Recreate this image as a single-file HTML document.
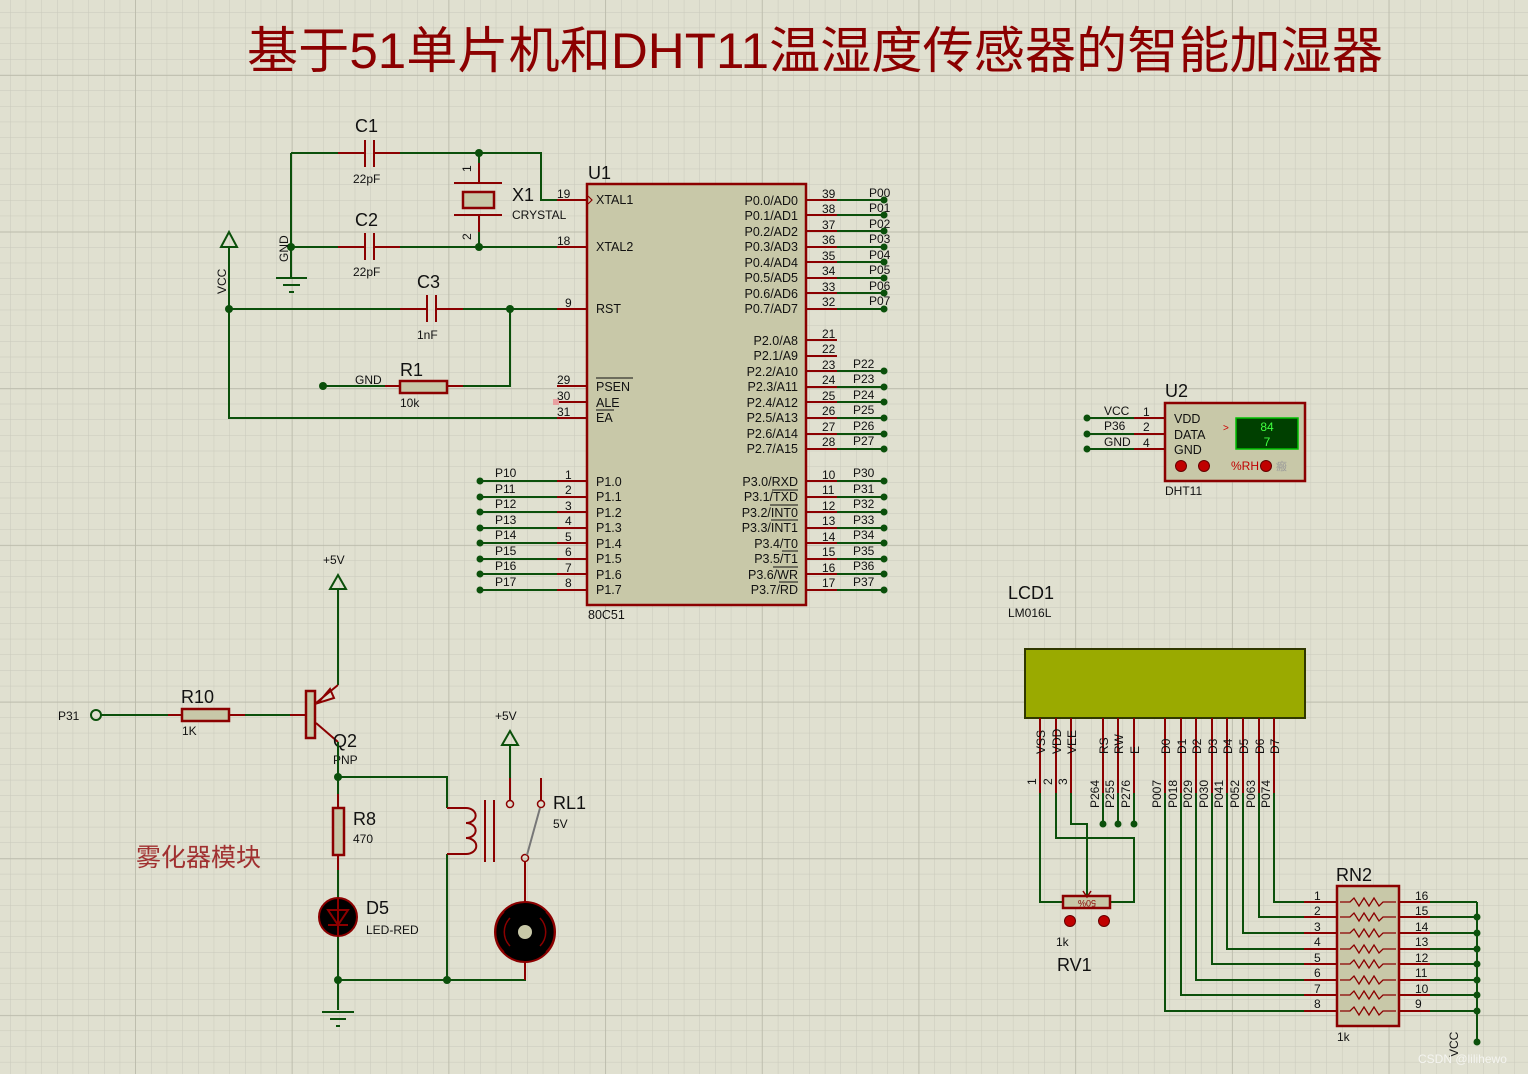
<!DOCTYPE html>
<html><head><meta charset="utf-8"><style>
html,body{margin:0;padding:0;background:#e0e0d0;}
svg{display:block;font-family:"Liberation Sans","Noto Sans CJK SC",sans-serif;}
.w{stroke:#0b500b;stroke-width:2;fill:none}
.r{stroke:#8b0000;stroke-width:2;fill:none}
.b{fill:#c8c8a8;stroke:#8b0000;stroke-width:2.5}
.t{font-size:12.5px;fill:#111}
.n{font-size:12px;fill:#111}
.L{font-size:18px;fill:#111}
.d{fill:#0b500b}
</style></head><body>
<svg width="1528" height="1074" viewBox="0 0 1528 1074" xmlns="http://www.w3.org/2000/svg">
<defs>
<pattern id="mi" x="10" y="12" width="15.67" height="15.67" patternUnits="userSpaceOnUse">
<path d="M0 0H15.67M0 0V15.67" stroke="#c9c9bb" stroke-width="1" fill="none"/></pattern>
<pattern id="ma" x="135" y="75" width="156.7" height="156.7" patternUnits="userSpaceOnUse">
<path d="M0 0H156.7M0 0V156.7" stroke="#b8b8a8" stroke-width="1.5" fill="none"/></pattern>
</defs>
<rect width="1528" height="1074" fill="#e0e0d0"/>
<rect width="1528" height="1074" fill="url(#mi)"/>
<rect width="1528" height="1074" fill="url(#ma)"/>

<text x="815" y="68" text-anchor="middle" font-size="50" fill="#8b0000" textLength="1136" lengthAdjust="spacingAndGlyphs">基于51单片机和DHT11温湿度传感器的智能加湿器</text>

<!-- U1 -->
<rect class="b" x="587" y="184" width="219" height="421"/>
<text class="L" x="588" y="179">U1</text>
<text class="t" x="588" y="619">80C51</text>

<!-- crystal area -->
<path class="w" d="M291 153H338M400 153H541V200H557M479 153V163"/>
<path class="r" d="M338 153H365M374 153H400M557 200H587"/>
<path class="r" d="M365 140V167M374 140V167"/>
<path class="r" d="M479 163V183M454 183H502M454 215H502M479 215V232"/>
<rect class="b" x="463" y="192" width="31" height="16"/>
<path class="w" d="M479 232V247"/>
<path class="w" d="M291 247H338M400 247H557M291 153V277"/>
<path class="r" d="M338 247H365M374 247H400M557 247H587M365 233V260M374 233V260"/>
<circle class="d" cx="479" cy="153" r="4"/><circle class="d" cx="479" cy="247" r="4"/><circle class="d" cx="291" cy="247" r="4"/>
<path class="w" d="M276 278H307M283 285H300M289 292H294"/>
<text class="n" transform="translate(288,262) rotate(-90)">GND</text>
<!-- VCC -->
<path class="w" d="M229 247V418H557M221 247L229 232L237 247Z"/>
<text class="n" transform="translate(226,294) rotate(-90)">VCC</text>
<path class="w" d="M229 309H400M436 309H557M510 309V386H463M385 386H323"/>
<path class="r" d="M400 309H427M436 309H463M427 295V322M436 295V322M557 309H587M385 386H400M447 386H463M557 386H587M557 402H587M557 418H587"/>
<rect class="b" x="400" y="381" width="47" height="12"/>
<circle class="d" cx="229" cy="309" r="4"/><circle class="d" cx="510" cy="309" r="4"/><circle class="d" cx="323" cy="386" r="4"/>
<rect x="553" y="399" width="6" height="6" fill="#e8a0a0"/>
<text class="L" x="355" y="132">C1</text><text class="n" x="353" y="183">22pF</text>
<text class="L" x="355" y="226">C2</text><text class="n" x="353" y="276">22pF</text>
<text class="L" x="417" y="288">C3</text><text class="n" x="417" y="339">1nF</text>
<text class="L" x="400" y="376">R1</text><text class="n" x="400" y="407">10k</text>
<text class="n" x="355" y="384">GND</text>
<text class="L" x="512" y="201">X1</text><text class="n" x="512" y="219">CRYSTAL</text>
<text class="n" x="471" y="172" transform="rotate(-90 471 172)">1</text>
<text class="n" x="471" y="240" transform="rotate(-90 471 240)">2</text>

<g class="n">
<text x="557" y="198">19</text><text x="557" y="245">18</text><text x="565" y="307">9</text>
<text x="557" y="384">29</text><text x="557" y="400">30</text><text x="557" y="416">31</text>
</g>
<g class="t">
<text x="596" y="204">XTAL1</text><text x="596" y="251">XTAL2</text><text x="596" y="313">RST</text>
<text x="596" y="391">PSEN</text><text x="596" y="407">ALE</text><text x="596" y="422">EA</text>
</g>
<path d="M596 378H633M596 410H614" stroke="#111" stroke-width="1"/>
<path d="M588 196L592 200L588 204" stroke="#8b0000" fill="none" stroke-width="1.2"/>

<g id="p1">
<path class="w" d="M480 481H557M480 497H557M480 512H557M480 528H557M480 543H557M480 559H557M480 574H557M480 590H557"/>
<path class="r" d="M557 481H587M557 497H587M557 512H587M557 528H587M557 543H587M557 559H587M557 574H587M557 590H587"/>
<g class="d"><circle cx="480" cy="481" r="3.5"/><circle cx="480" cy="497" r="3.5"/><circle cx="480" cy="512" r="3.5"/><circle cx="480" cy="528" r="3.5"/><circle cx="480" cy="543" r="3.5"/><circle cx="480" cy="559" r="3.5"/><circle cx="480" cy="574" r="3.5"/><circle cx="480" cy="590" r="3.5"/></g>
<g class="n"><text x="565" y="479">1</text><text x="565" y="494">2</text><text x="565" y="510">3</text><text x="565" y="525">4</text><text x="565" y="541">5</text><text x="565" y="556">6</text><text x="565" y="572">7</text><text x="565" y="587">8</text>
<text x="495" y="477">P10</text><text x="495" y="493">P11</text><text x="495" y="508">P12</text><text x="495" y="524">P13</text><text x="495" y="539">P14</text><text x="495" y="555">P15</text><text x="495" y="570">P16</text><text x="495" y="586">P17</text></g>
<g class="t"><text x="596" y="486">P1.0</text><text x="596" y="501">P1.1</text><text x="596" y="517">P1.2</text><text x="596" y="532">P1.3</text><text x="596" y="548">P1.4</text><text x="596" y="563">P1.5</text><text x="596" y="579">P1.6</text><text x="596" y="594">P1.7</text></g>
</g>

<path class="r" d="M806 200H837M806 215H837M806 231H837M806 247H837M806 262H837M806 278H837M806 293H837M806 309H837M806 340H837M806 356H837M806 371H837M806 387H837M806 402H837M806 418H837M806 434H837M806 449H837M806 481H837M806 497H837M806 512H837M806 528H837M806 543H837M806 559H837M806 574H837M806 590H837"/>
<path class="w" d="M837 200H884M837 215H884M837 231H884M837 247H884M837 262H884M837 278H884M837 293H884M837 309H884M837 371H884M837 387H884M837 402H884M837 418H884M837 434H884M837 449H884M837 481H884M837 497H884M837 512H884M837 528H884M837 543H884M837 559H884M837 574H884M837 590H884"/>
<g class="d"><circle cx="884" cy="200" r="3.5"/><circle cx="884" cy="215" r="3.5"/><circle cx="884" cy="231" r="3.5"/><circle cx="884" cy="247" r="3.5"/><circle cx="884" cy="262" r="3.5"/><circle cx="884" cy="278" r="3.5"/><circle cx="884" cy="293" r="3.5"/><circle cx="884" cy="309" r="3.5"/>
<circle cx="884" cy="371" r="3.5"/><circle cx="884" cy="387" r="3.5"/><circle cx="884" cy="402" r="3.5"/><circle cx="884" cy="418" r="3.5"/><circle cx="884" cy="434" r="3.5"/><circle cx="884" cy="449" r="3.5"/>
<circle cx="884" cy="481" r="3.5"/><circle cx="884" cy="497" r="3.5"/><circle cx="884" cy="512" r="3.5"/><circle cx="884" cy="528" r="3.5"/><circle cx="884" cy="543" r="3.5"/><circle cx="884" cy="559" r="3.5"/><circle cx="884" cy="574" r="3.5"/><circle cx="884" cy="590" r="3.5"/></g>
<g class="n">
<text x="822" y="198">39</text><text x="822" y="213">38</text><text x="822" y="229">37</text><text x="822" y="244">36</text><text x="822" y="260">35</text><text x="822" y="275">34</text><text x="822" y="291">33</text><text x="822" y="306">32</text>
<text x="822" y="338">21</text><text x="822" y="353">22</text><text x="822" y="369">23</text><text x="822" y="384">24</text><text x="822" y="400">25</text><text x="822" y="415">26</text><text x="822" y="431">27</text><text x="822" y="446">28</text>
<text x="822" y="479">10</text><text x="822" y="494">11</text><text x="822" y="510">12</text><text x="822" y="525">13</text><text x="822" y="541">14</text><text x="822" y="556">15</text><text x="822" y="572">16</text><text x="822" y="587">17</text>
<text x="869" y="197">P00</text><text x="869" y="212">P01</text><text x="869" y="228">P02</text><text x="869" y="243">P03</text><text x="869" y="259">P04</text><text x="869" y="274">P05</text><text x="869" y="290">P06</text><text x="869" y="305">P07</text>
<text x="853" y="368">P22</text><text x="853" y="383">P23</text><text x="853" y="399">P24</text><text x="853" y="414">P25</text><text x="853" y="430">P26</text><text x="853" y="445">P27</text>
<text x="853" y="477">P30</text><text x="853" y="493">P31</text><text x="853" y="508">P32</text><text x="853" y="524">P33</text><text x="853" y="539">P34</text><text x="853" y="555">P35</text><text x="853" y="570">P36</text><text x="853" y="586">P37</text>
</g>
<g class="t" text-anchor="end">
<text x="798" y="205">P0.0/AD0</text><text x="798" y="220">P0.1/AD1</text><text x="798" y="236">P0.2/AD2</text><text x="798" y="251">P0.3/AD3</text><text x="798" y="267">P0.4/AD4</text><text x="798" y="282">P0.5/AD5</text><text x="798" y="298">P0.6/AD6</text><text x="798" y="313">P0.7/AD7</text>
<text x="798" y="345">P2.0/A8</text><text x="798" y="360">P2.1/A9</text><text x="798" y="376">P2.2/A10</text><text x="798" y="391">P2.3/A11</text><text x="798" y="407">P2.4/A12</text><text x="798" y="422">P2.5/A13</text><text x="798" y="438">P2.6/A14</text><text x="798" y="453">P2.7/A15</text>
<text x="798" y="486">P3.0/RXD</text><text x="798" y="501">P3.1/TXD</text><text x="798" y="517">P3.2/INT0</text><text x="798" y="532">P3.3/INT1</text><text x="798" y="548">P3.4/T0</text><text x="798" y="563">P3.5/T1</text><text x="798" y="579">P3.6/WR</text><text x="798" y="594">P3.7/RD</text>
</g>
<path d="M772 490H798M770 505H798M771 520H798M782 551H798M773 567H798M779 582H798" stroke="#111" stroke-width="1" transform="translate(0,0)"/>

<text class="n" x="323" y="564">+5V</text>
<path class="w" d="M338 589V685M330 589L338 575L346 589Z"/>
<path class="r" d="M338 685L316 703M316 723L338 742"/>
<path d="M318 703L330 689L334 698Z" fill="none" stroke="#8b0000" stroke-width="2"/>
<rect class="b" x="306" y="691" width="9" height="47"/>
<text class="n" x="58" y="720">P31</text>
<circle cx="96" cy="715" r="5" fill="none" stroke="#0b500b" stroke-width="2"/>
<path class="w" d="M101 715H168M245 715H290"/>
<path class="r" d="M168 715H182M229 715H245M290 715H306"/>
<rect class="b" x="182" y="709" width="47" height="12"/>
<text class="L" x="181" y="703">R10</text><text class="n" x="182" y="735">1K</text>
<text class="L" x="333" y="747">Q2</text><text class="n" x="333" y="764">PNP</text>
<path class="w" d="M338 742V794M338 777H447V808M447 854V980M338 870V900M338 935V1010M338 980H525V962"/>
<path class="r" d="M338 794V808M338 855V870M447 808H466M447 854H466"/>
<path class="r" d="M466 808a9 7 0 0 1 0 15a9 7 0 0 1 0 15a9 7 0 0 1 0 16" fill="none"/>
<path class="r" d="M485 800V862M494 800V862"/>
<rect class="b" x="333" y="808" width="11" height="47"/>
<text class="L" x="353" y="825">R8</text><text class="n" x="353" y="843">470</text>
<circle cx="338" cy="917" r="19" fill="#000" stroke="#8b0000" stroke-width="2"/>
<path d="M328 910H348L338 925ZM328 925H348" fill="none" stroke="#8b0000" stroke-width="2"/>
<path class="r" d="M338 898V935"/>
<text class="L" x="366" y="914">D5</text><text class="n" x="366" y="934">LED-RED</text>
<path class="w" d="M322 1012H354M330 1019H346M336 1026H340"/>
<circle class="d" cx="338" cy="777" r="4"/><circle class="d" cx="338" cy="980" r="4"/><circle class="d" cx="447" cy="980" r="4"/>
<text class="n" x="495" y="720">+5V</text>
<path class="w" d="M510 745V778M502 745L510 731L518 745Z"/>
<path class="r" d="M510 778V800M541 778V800M525 862V902"/>
<circle cx="510" cy="804" r="3.5" fill="none" stroke="#8b0000" stroke-width="1.5"/>
<circle cx="541" cy="804" r="3.5" fill="none" stroke="#8b0000" stroke-width="1.5"/>
<circle cx="525" cy="858" r="3.5" fill="none" stroke="#8b0000" stroke-width="1.5"/>
<path d="M540 808L527 855" stroke="#777" stroke-width="2"/>
<text class="L" x="553" y="809">RL1</text><text class="n" x="553" y="828">5V</text>
<circle cx="525" cy="932" r="30" fill="#000" stroke="#8b0000" stroke-width="2"/>
<circle cx="525" cy="932" r="7" fill="#c8c8a8"/>
<path d="M510 918a20 20 0 0 0 0 28M540 918a20 20 0 0 1 0 28M504 912a28 28 0 0 0 0 40M546 912a28 28 0 0 1 0 40" stroke="#8b0000" fill="none" stroke-width="1.5"/>
<path class="r" d="M525 962V980"/>
<text x="136" y="866" font-size="25" fill="#a03030">雾化器模块</text>

<rect class="b" x="1165" y="403" width="140" height="78"/>
<text class="L" x="1165" y="397">U2</text><text class="n" x="1165" y="495">DHT11</text>
<path class="w" d="M1087 418H1134M1087 434H1134M1087 449H1134"/>
<path class="r" d="M1134 418H1165M1134 434H1165M1134 449H1165"/>
<g class="d"><circle cx="1087" cy="418" r="3.5"/><circle cx="1087" cy="434" r="3.5"/><circle cx="1087" cy="449" r="3.5"/></g>
<g class="n"><text x="1104" y="415">VCC</text><text x="1104" y="430">P36</text><text x="1104" y="446">GND</text><text x="1143" y="416">1</text><text x="1143" y="431">2</text><text x="1143" y="447">4</text></g>
<g class="t"><text x="1174" y="423">VDD</text><text x="1174" y="439">DATA</text><text x="1174" y="454">GND</text></g>
<rect x="1236" y="418" width="62" height="31" fill="#004000" stroke="#00c000" stroke-width="1.5"/>
<text x="1267" y="431" font-size="12" fill="#40ff40" text-anchor="middle">84</text>
<text x="1267" y="446" font-size="12" fill="#40ff40" text-anchor="middle">7</text>
<text x="1223" y="431" font-size="10" fill="#c00">&gt;</text>
<circle cx="1181" cy="466" r="5.5" fill="#c00000" stroke="#600" stroke-width="1"/>
<circle cx="1204" cy="466" r="5.5" fill="#c00000" stroke="#600" stroke-width="1"/>
<text x="1231" y="470" font-size="12" fill="#c00000">%RH</text>
<circle cx="1266" cy="466" r="5.5" fill="#c00000" stroke="#600" stroke-width="1"/>
<text x="1276" y="470" font-size="11" fill="#999">瘢</text>

<text class="L" x="1008" y="599">LCD1</text><text class="n" x="1008" y="617">LM016L</text>
<rect x="1025" y="649" width="280" height="69" fill="#9aaa00" stroke="#303800" stroke-width="2"/>
<path class="r" d="M1040 718V793M1056 718V793M1071 718V793M1103 718V793M1118 718V793M1134 718V793M1165 718V793M1181 718V793M1196 718V793M1212 718V793M1227 718V793M1243 718V793M1259 718V793M1274 718V793"/>
<g class="n">
<text transform="translate(1045,754) rotate(-90)">VSS</text><text transform="translate(1061,754) rotate(-90)">VDD</text><text transform="translate(1076,754) rotate(-90)">VEE</text>
<text transform="translate(1108,754) rotate(-90)">RS</text><text transform="translate(1123,754) rotate(-90)">RW</text><text transform="translate(1139,754) rotate(-90)">E</text>
<text transform="translate(1170,754) rotate(-90)">D0</text><text transform="translate(1186,754) rotate(-90)">D1</text><text transform="translate(1201,754) rotate(-90)">D2</text><text transform="translate(1217,754) rotate(-90)">D3</text><text transform="translate(1232,754) rotate(-90)">D4</text><text transform="translate(1248,754) rotate(-90)">D5</text><text transform="translate(1264,754) rotate(-90)">D6</text><text transform="translate(1279,754) rotate(-90)">D7</text>
<text transform="translate(1036,785) rotate(-90)">1</text><text transform="translate(1052,785) rotate(-90)">2</text><text transform="translate(1067,785) rotate(-90)">3</text>
<text transform="translate(1099,808) rotate(-90)">P264</text><text transform="translate(1114,808) rotate(-90)">P255</text><text transform="translate(1130,808) rotate(-90)">P276</text>
<text transform="translate(1161,808) rotate(-90)">P007</text><text transform="translate(1177,808) rotate(-90)">P018</text><text transform="translate(1192,808) rotate(-90)">P029</text><text transform="translate(1208,808) rotate(-90)">P030</text><text transform="translate(1223,808) rotate(-90)">P041</text><text transform="translate(1239,808) rotate(-90)">P052</text><text transform="translate(1255,808) rotate(-90)">P063</text><text transform="translate(1270,808) rotate(-90)">P074</text>
</g>
<path class="w" d="M1103 793V824M1118 793V824M1134 793V824M1040 793V902H1063M1056 793V838H1134V902H1110M1071 793V824H1087V896"/>
<g class="d"><circle cx="1103" cy="824" r="3.5"/><circle cx="1118" cy="824" r="3.5"/><circle cx="1134" cy="824" r="3.5"/></g>
<rect class="b" x="1063" y="896" width="47" height="12" stroke-width="2"/>
<text x="1087" y="906" font-size="9" fill="#8b0000" text-anchor="middle" transform="rotate(180 1087 903)">50%</text>
<path d="M1083 891L1087 897L1091 891" stroke="#8b0000" fill="none" stroke-width="1.5"/>
<circle cx="1070" cy="921" r="5.5" fill="#c00000" stroke="#600"/><circle cx="1104" cy="921" r="5.5" fill="#c00000" stroke="#600"/>
<text class="n" x="1056" y="946">1k</text><text class="L" x="1057" y="971">RV1</text>

<path class="w" d="M1274 793V902H1304M1259 793V917H1304M1243 793V933H1304M1227 793V949H1304M1212 793V964H1304M1196 793V980H1304M1181 793V995H1304M1165 793V1011H1304"/>
<path class="r" d="M1304 902H1337M1304 917H1337M1304 933H1337M1304 949H1337M1304 964H1337M1304 980H1337M1304 995H1337M1304 1011H1337M1399 902H1430M1399 917H1430M1399 933H1430M1399 949H1430M1399 964H1430M1399 980H1430M1399 995H1430M1399 1011H1430"/>
<rect class="b" x="1337" y="886" width="62" height="140"/>
<g stroke="#8b0000" stroke-width="1.3" fill="none">
<path d="M1340 902H1350l4-4 5 8 5-8 5 8 5-8 5 8 4-4H1396"/>
<path d="M1340 917H1350l4-4 5 8 5-8 5 8 5-8 5 8 4-4H1396"/>
<path d="M1340 933H1350l4-4 5 8 5-8 5 8 5-8 5 8 4-4H1396"/>
<path d="M1340 949H1350l4-4 5 8 5-8 5 8 5-8 5 8 4-4H1396"/>
<path d="M1340 964H1350l4-4 5 8 5-8 5 8 5-8 5 8 4-4H1396"/>
<path d="M1340 980H1350l4-4 5 8 5-8 5 8 5-8 5 8 4-4H1396"/>
<path d="M1340 995H1350l4-4 5 8 5-8 5 8 5-8 5 8 4-4H1396"/>
<path d="M1340 1011H1350l4-4 5 8 5-8 5 8 5-8 5 8 4-4H1396"/>
</g>
<path class="w" d="M1430 902H1477M1430 917H1477M1430 933H1477M1430 949H1477M1430 964H1477M1430 980H1477M1430 995H1477M1430 1011H1477M1477 902V1042"/>
<g class="d"><circle cx="1477" cy="917" r="3.5"/><circle cx="1477" cy="933" r="3.5"/><circle cx="1477" cy="949" r="3.5"/><circle cx="1477" cy="964" r="3.5"/><circle cx="1477" cy="980" r="3.5"/><circle cx="1477" cy="995" r="3.5"/><circle cx="1477" cy="1011" r="3.5"/><circle cx="1477" cy="1042" r="3.5"/></g>
<g class="n">
<text x="1314" y="900">1</text><text x="1314" y="915">2</text><text x="1314" y="931">3</text><text x="1314" y="946">4</text><text x="1314" y="962">5</text><text x="1314" y="977">6</text><text x="1314" y="993">7</text><text x="1314" y="1008">8</text>
<text x="1415" y="900">16</text><text x="1415" y="915">15</text><text x="1415" y="931">14</text><text x="1415" y="946">13</text><text x="1415" y="962">12</text><text x="1415" y="977">11</text><text x="1415" y="993">10</text><text x="1415" y="1008">9</text>
<text x="1337" y="1041">1k</text>
<text transform="translate(1458,1057) rotate(-90)">VCC</text>
</g>
<text class="L" x="1336" y="881">RN2</text>
<text x="1418" y="1063" font-size="12" fill="#f4f4f0">CSDN @lilihewo</text>
</svg>
</body></html>
